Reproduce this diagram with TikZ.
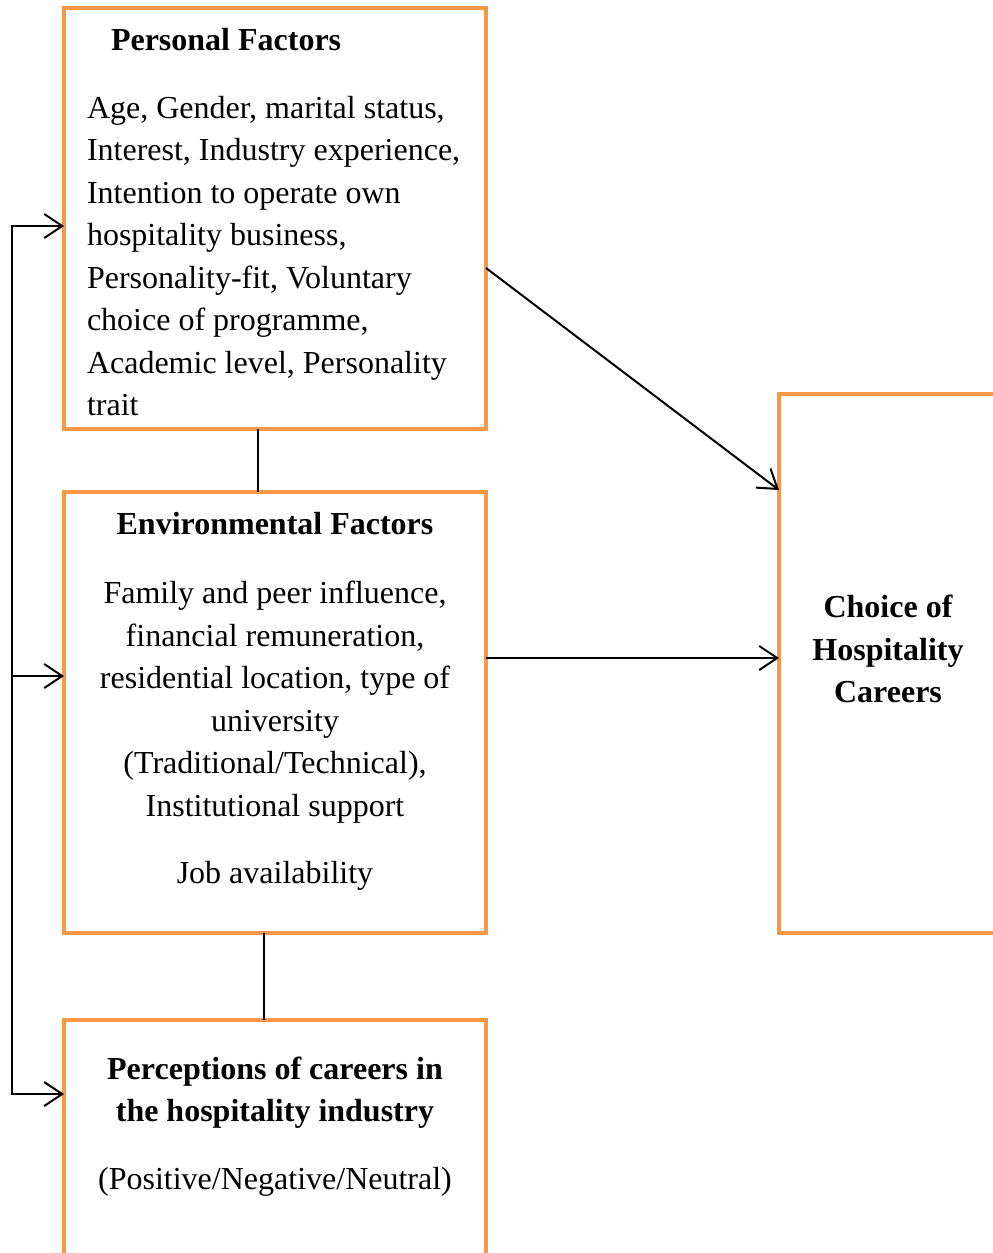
\documentclass[tikz,border=0pt]{standalone}
\usepackage{fontspec}
\setmainfont{Liberation Serif}
\usetikzlibrary{arrows.meta}
\definecolor{boxorange}{HTML}{F79646}

\begin{document}
\begin{tikzpicture}[x=1pt,y=-1pt,line width=2pt,
  box/.style={draw=boxorange, line width=4pt, minimum width=422pt, inner sep=0pt, outer sep=0pt},
  txt/.style={font=\fontsize{32}{42.5}\selectfont, inner sep=0pt},
  hd/.style={txt, font=\fontsize{32}{42.5}\selectfont\bfseries},
  >={Straight Barb[length=18pt,width=24pt]}]
\clip (0,0) rectangle (993,1253);

\node[box, minimum height=421pt] (pers) at (275,218.5) {};
\node[box, minimum height=441pt] (env) at (275,712.5) {};
\node[box, minimum height=280pt] (perc) at (275,1160) {};
\node[box, minimum width=281pt, minimum height=539pt] (choice) at (919.5,663.5) {};

\node[hd, anchor=base west] (persh) at (110,50.5) {Personal Factors};
\node[txt, anchor=north west, align=left] (persb) at (86,95) {Age, Gender, marital status,\\ Interest, Industry experience,\\ Intention to operate own\\ hospitality business,\\ Personality-fit, Voluntary\\ choice of programme,\\ Academic level, Personality\\ trait};

\node[hd, anchor=base] (envh) at (275,534) {Environmental Factors};
\node[txt, anchor=north, align=center] (envb) at (275,580) {Family and peer influence,\\ financial remuneration,\\ residential location, type of\\ university\\ (Traditional/Technical),\\ Institutional support};
\node[txt, anchor=base] (job) at (275,883.5) {Job availability};

\node[hd, anchor=north, align=center] (perch) at (275,1055.5) {Perceptions of careers in\\ the hospitality industry};
\node[txt, anchor=base] (percb) at (275,1189) {(Positive/Negative/Neutral)};

\node[hd, anchor=north, align=center] (choiceh) at (888,594) {Choice of\\ Hospitality\\ Careers};

\draw ([xshift=-17pt]pers.south) -- ([xshift=-17pt]env.north);
\draw ([xshift=-11pt]env.south) -- ([xshift=-11pt]perc.north);

\coordinate (lt) at (12,226);
\coordinate (lm) at (12,676);
\coordinate (lb) at (12,1094);
\draw[<->] (lt -| pers.west) -- (lt) -- (lb) -- (lb -| perc.west);
\draw[->] (lm) -- (lm -| env.west);

\draw[->] ([yshift=-49.5pt]pers.east) -- ([yshift=173.5pt]choice.west);
\coordinate (ee) at ([yshift=54.5pt]env.east);
\draw[->] (ee) -- (ee -| choice.west);
\end{tikzpicture}
\end{document}
